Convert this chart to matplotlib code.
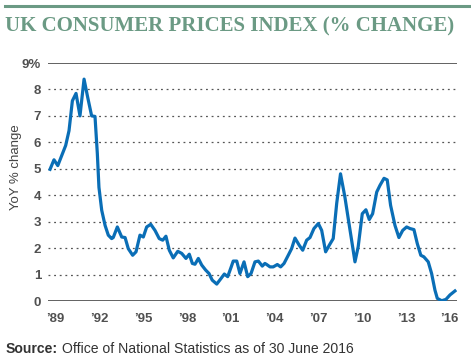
import matplotlib
matplotlib.use("Agg")
import matplotlib.pyplot as plt

# decimal year positions and CPI YoY % change
years = [
    1989.07, 1989.34, 1989.60, 1989.87, 1990.14, 1990.37, 1990.60, 1990.85,
    1991.12, 1991.40, 1991.65, 1991.92, 1992.15, 1992.31, 1992.42, 1992.61,
    1992.84, 1993.06, 1993.29, 1993.40, 1993.68, 1993.98, 1994.21, 1994.43,
    1994.73, 1994.96, 1995.23, 1995.46, 1995.69, 1995.97, 1996.26, 1996.55,
    1996.79, 1997.01, 1997.24, 1997.51, 1997.82, 1998.09, 1998.38, 1998.61,
    1998.82, 1999.00, 1999.23, 1999.46, 1999.73, 1999.96, 2000.18, 2000.49,
    2000.78, 2001.01, 2001.24, 2001.47, 2001.62, 2001.86, 2002.08, 2002.36,
    2002.61, 2002.84, 2003.11, 2003.34, 2003.61, 2003.79, 2003.91, 2004.14,
    2004.36, 2004.64, 2004.87, 2005.10, 2005.39, 2005.62, 2005.85, 2006.14,
    2006.38, 2006.65, 2006.88, 2007.15, 2007.45, 2007.68, 2007.95, 2008.20,
    2008.47, 2008.71, 2008.97, 2009.27, 2009.50, 2009.73, 2009.96, 2010.18,
    2010.46, 2010.71, 2010.94, 2011.17, 2011.45, 2011.67, 2011.95, 2012.17,
    2012.40, 2012.70, 2012.97, 2013.23, 2013.50, 2013.73, 2014.00, 2014.23,
    2014.47, 2014.68, 2014.98, 2015.21, 2015.44, 2015.60, 2015.90, 2016.19,
    2016.47, 2016.81,
]
cpi = [
    4.98, 5.34, 5.12, 5.50, 5.88, 6.44, 7.57, 7.85,
    7.00, 8.39, 7.70, 7.00, 6.98, 5.57, 4.30, 3.43,
    2.86, 2.49, 2.36, 2.40, 2.80, 2.42, 2.40, 1.98,
    1.73, 1.86, 2.49, 2.42, 2.80, 2.90, 2.67, 2.36,
    2.30, 2.45, 1.92, 1.63, 1.88, 1.80, 1.61, 1.77,
    1.42, 1.39, 1.61, 1.36, 1.17, 1.04, 0.79, 0.64,
    0.85, 1.02, 0.92, 1.27, 1.51, 1.51, 1.04, 1.48,
    0.92, 1.04, 1.48, 1.51, 1.32, 1.42, 1.38, 1.29,
    1.29, 1.38, 1.29, 1.42, 1.73, 1.98, 2.38, 2.11,
    1.92, 2.30, 2.40, 2.74, 2.93, 2.67, 1.86, 2.11,
    2.36, 3.70, 4.81, 3.93, 3.11, 2.30, 1.48, 2.05,
    3.30, 3.45, 3.08, 3.30, 4.12, 4.37, 4.64, 4.58,
    3.62, 2.86, 2.40, 2.67, 2.80, 2.74, 2.70, 2.17,
    1.73, 1.67, 1.48, 1.04, 0.41, 0.10, 0.01, 0.06,
    0.23, 0.38,
]
tick_years = [1989, 1992, 1995, 1998, 2001, 2004, 2007, 2010, 2013, 2016]
tick_labels = ["\u201989", "\u201992", "\u201995", "\u201998", "\u201901",
               "\u201904", "\u201907", "\u201910", "\u201913", "\u201916"]
y_ticks = list(range(0, 10))
y_labels = ["0", "1", "2", "3", "4", "5", "6", "7", "8", "9%"]

sans = ["Liberation Sans", "DejaVu Sans"]
green = "#6b9a84"
grey = "#505050"
W, H = 471, 361

fig = plt.figure(figsize=(W / 100, H / 100), dpi=100)
ax = fig.add_axes([48 / W, 60 / H, 409 / W, 238 / H])

for v in y_ticks:
    if v in (0, 9):
        ax.axhline(v, color="#555555", lw=1.3, zorder=1)
    else:
        ax.axhline(v, color="#555555", lw=0.9, ls=(0, (1.5, 3)), zorder=1)

ax.plot(years, cpi, color="#0a6eb6", lw=2.3, solid_joinstyle="round", zorder=3)

ax.set_xlim(1988.93, 2016.95)
ax.set_ylim(0, 9)
ax.set_xticks([y + 0.45 for y in tick_years])
ax.set_xticklabels(tick_labels)
ax.set_yticks(y_ticks)
ax.set_yticklabels(y_labels)
ax.tick_params(length=0, labelsize=9.5, labelcolor=grey, pad=5)
ax.tick_params(axis="x", pad=9)
for lab in ax.get_xticklabels() + ax.get_yticklabels():
    lab.set_family(sans)
    lab.set_fontweight("bold")
for s in ax.spines.values():
    s.set_visible(False)

fig.text(16 / W, 1 - 167 / H, "YoY % change", rotation=90, ha="center",
         va="center", fontsize=9.5, color="#444444", family=sans)

# top rule and title
fig.add_artist(plt.Line2D([5 / W, 469 / W], [1 - 6 / H, 1 - 6 / H],
                          color=green, lw=2.2))
title = fig.text(5 / W, 1 - 26 / H, "UK CONSUMER PRICES INDEX (% CHANGE)",
                 ha="left", va="center", fontsize=16, color=green,
                 family="Liberation Serif", fontweight="semibold")
fig.canvas.draw()
tw = title.get_window_extent().width
title.set_fontsize(16 * 452 / tw)

# source line
src = fig.text(6 / W, 1 - 349 / H, "Source:", ha="left", va="center",
               fontsize=10, color="#333333", family=sans, fontweight="bold")
rest = fig.text(0, 1 - 349 / H,
                "Office of National Statistics as of 30 June 2016", ha="left",
                va="center", fontsize=10, color="#333333", family=sans)
fig.canvas.draw()
total = src.get_window_extent().width + 4 + rest.get_window_extent().width
scale = 347 / total
src.set_fontsize(10 * scale)
rest.set_fontsize(10 * scale)
fig.canvas.draw()
rest.set_x((src.get_window_extent().x1 + 4 * scale) / W)

fig.savefig("out.png", dpi=100)
